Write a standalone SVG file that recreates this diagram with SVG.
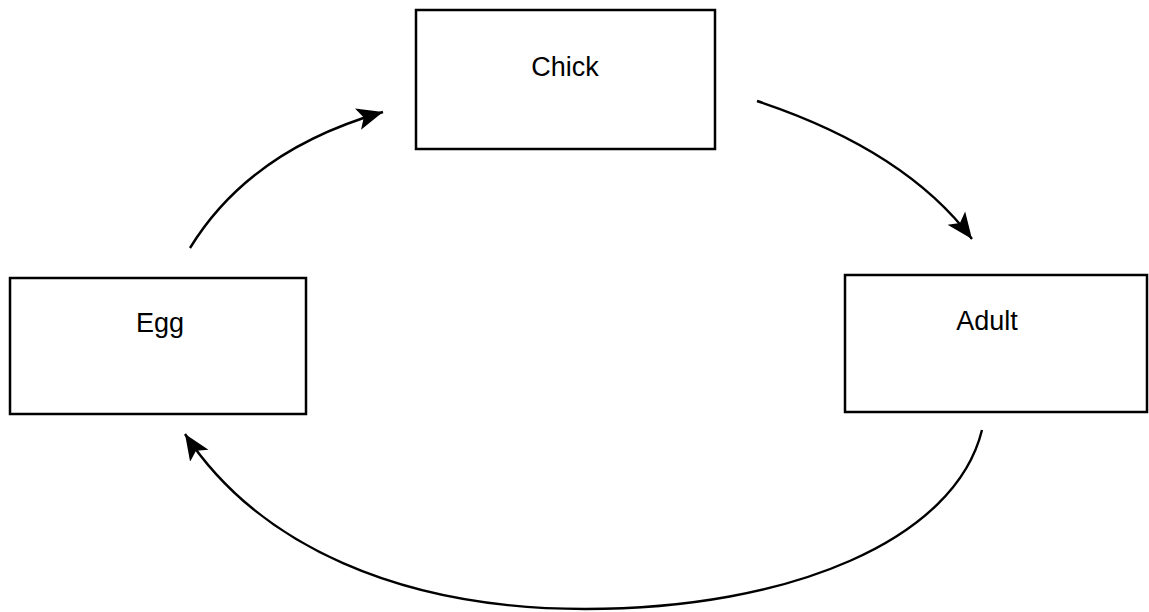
<svg xmlns="http://www.w3.org/2000/svg" width="1149" height="612" viewBox="0 0 1149 612">
<style>
.box{fill:#fff;stroke:#000;stroke-width:2.5}
.lbl{font-family:"Liberation Sans",Arial,sans-serif;font-size:27px;fill:#000;text-anchor:middle}
.edge{fill:none;stroke:#000;stroke-width:2.4}
</style>
<defs>
<marker id="ah" markerUnits="userSpaceOnUse" markerWidth="28" markerHeight="24" refX="26" refY="11" orient="auto" viewBox="0 0 28 22">
<path d="M0,0 L26,11 L0,22 L6,11 Z" fill="#000"/>
</marker>
</defs>
<rect width="1149" height="612" fill="#fff"/>
<g id="connectors">
<path class="edge" d="M190,248 Q250,150 383,112" marker-end="url(#ah)"/>
<path class="edge" d="M757,101 Q905,150 972,239" marker-end="url(#ah)"/>
<path class="edge" d="M982,430 C955,540 790,609 585,609 C400,609 258,545 185,434" marker-end="url(#ah)"/>
</g>
<g id="node-chick">
<rect class="box" x="416" y="10" width="299" height="139"/>
<text class="lbl" x="565" y="76">Chick</text>
</g>
<g id="node-adult">
<rect class="box" x="845" y="275" width="302" height="137"/>
<text class="lbl" x="987" y="330">Adult</text>
</g>
<g id="node-egg">
<rect class="box" x="10" y="278" width="296" height="136"/>
<text class="lbl" x="160" y="332">Egg</text>
</g>
</svg>
